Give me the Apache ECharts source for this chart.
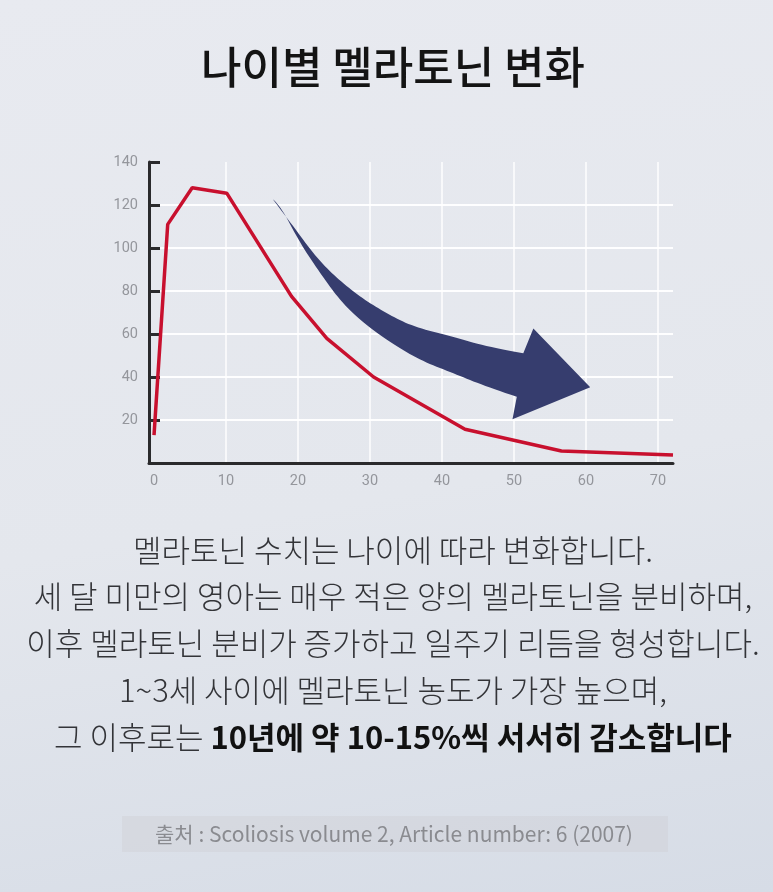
<!DOCTYPE html>
<html><head><meta charset="utf-8">
<script src="https://cdn.jsdelivr.net/npm/echarts@6/dist/echarts.min.js"></script>
<style>
html,body{margin:0;padding:0;}
body{width:773px;height:892px;background:linear-gradient(170deg,#e8eaf0 0%,#e4e7ed 55%,#d6dce6 100%);}
#c{width:773px;height:892px;}
</style>
</head><body><div id="c"></div>
<script>
// ---- data ----
const ages = [0, 1.9, 5.3, 10.1, 19.1, 24.0, 30.5, 43.2, 56.6, 72.1];
const melatonin = [13, 111, 128, 125.5, 77.5, 58, 40, 15.7, 5.6, 3.7];
const xTickLabels = [0, 10, 20, 30, 40, 50, 60, 70];
const yTickLabels = [20, 40, 60, 80, 100, 120, 140];
const titleText = '나이별 멜라토닌 변화';
const bodyLines = [
  '멜라토닌 수치는 나이에 따라 변화합니다.',
  '세 달 미만의 영아는 매우 적은 양의 멜라토닌을 분비하며,',
  '이후 멜라토닌 분비가 증가하고 일주기 리듬을 형성합니다.',
  '1~3세 사이에 멜라토닌 농도가 가장 높으며,'
];
const lastLinePlain = '그 이후로는 ';
const lastLineBold = '10년에 약 10-15%씩 서서히 감소합니다';
const sourceText = '출처 : Scoliosis volume 2, Article number: 6 (2007)';

const KR = '"Noto Sans CJK KR", "Noto Sans", sans-serif';
const chart = echarts.init(document.getElementById('c'), null, {renderer: 'canvas'});

function smoothPts(pts) {
  const out = [pts[0]];
  const n = pts.length;
  for (let i = 1; i < n - 1; i++) {
    const a = i === 1 ? pts[0] : [(pts[i-1][0] + pts[i][0]) / 2, (pts[i-1][1] + pts[i][1]) / 2];
    const b = i === n - 2 ? pts[n-1] : [(pts[i][0] + pts[i+1][0]) / 2, (pts[i][1] + pts[i+1][1]) / 2];
    const c = pts[i];
    for (let k = 1; k <= 10; k++) {
      const t = k / 10, u = 1 - t;
      out.push([u*u*a[0] + 2*u*t*c[0] + t*t*b[0], u*u*a[1] + 2*u*t*c[1] + t*t*b[1]]);
    }
  }
  if (n === 2) out.push(pts[1]);
  return out;
}

function renderArrow(params, api) {
  const upper = [[16.5,122.7],[19.4,109.9],[22.1,97.5],[24.9,87.4],[28.6,77.3],[32.3,69.6],[36.0,63.4],[41.6,58.7],[46.2,54.1],[51.3,51.0]];
  const head = [[52.7,62.6],[60.6,35.2],[49.8,20.3]];
  const lower = [[50.4,30.8],[46.2,35.5],[41.6,41.7],[36.9,47.9],[32.3,57.2],[28.6,66.5],[25.8,75.8],[23.1,88.2],[20.3,102.2],[17.5,120],[16.5,122.7]];
  const up = smoothPts(upper.map(p => api.coord(p)));
  const hd = head.map(p => api.coord(p));
  const lo = smoothPts(lower.map(p => api.coord(p)));
  return {
    type: 'polygon',
    shape: {points: up.concat(hd, lo)},
    style: {fill: '#363d6e'}
  };
}

const bodyFont = '300 31px ' + KR;
const textGraphics = [{
  type: 'text', x: 393, y: 67,
  style: {text: titleText, font: '500 44px ' + KR, fill: '#141414', textAlign: 'center', textVerticalAlign: 'middle'}
}];
bodyLines.forEach((t, i) => {
  textGraphics.push({
    type: 'text', x: 393, y: 550 + i * 46.7,
    style: {text: t, font: bodyFont, fill: '#333438', textAlign: 'center', textVerticalAlign: 'middle'}
  });
});

const option = {
  backgroundColor: 'transparent',
  animation: false,
  grid: {left: 149, right: 100, top: 162, bottom: 429, containLabel: false},
  xAxis: {
    type: 'value', min: -0.7, max: 72.1,
    axisLine: {show: true, onZero: false, lineStyle: {color: '#2a2a2c', width: 3}},
    axisTick: {show: false, customValues: xTickLabels},
    axisLabel: {customValues: xTickLabels, color: '#94969c', fontSize: 14.5, fontFamily: 'Roboto, sans-serif', margin: 11},
    splitLine: {show: true, showMinLine: false, lineStyle: {color: 'rgba(255,255,255,0.95)', width: 1.5}}
  },
  yAxis: {
    type: 'value', min: 0, max: 140, interval: 20,
    axisLine: {show: true, onZero: false, lineStyle: {color: '#2a2a2c', width: 3}},
    axisTick: {show: true, inside: true, length: 11, lineStyle: {color: '#2a2a2c', width: 3}},
    axisLabel: {color: '#94969c', fontSize: 14.5, fontFamily: 'Roboto, sans-serif', margin: 11,
      formatter: v => (yTickLabels.indexOf(v) >= 0 ? String(v) : '')},
    splitLine: {show: true, showMinLine: false, showMaxLine: false, lineStyle: {color: 'rgba(255,255,255,0.95)', width: 2}}
  },
  series: [
    {
      type: 'custom', renderItem: renderArrow, data: [[0, 0]], silent: true, z: 3, clip: false
    },
    {
      type: 'line', data: ages.map((a, i) => [a, melatonin[i]]), symbol: 'none', z: 4,
      lineStyle: {color: '#c8102e', width: 3.5}, clip: false
    }
  ],
  graphic: textGraphics.concat([
    {
      type: 'text', x: 393, y: 737,
      style: {
        text: '{n|' + lastLinePlain + '}{b|' + lastLineBold + '}',
        textAlign: 'center', textVerticalAlign: 'middle',
        rich: {
          n: {font: bodyFont, fill: '#333438'},
          b: {font: 'bold 31px ' + KR, fill: '#111111'}
        }
      }
    },
    {
      type: 'rect', shape: {x: 122, y: 816, width: 546, height: 36},
      style: {fill: 'rgba(205,206,210,0.38)'}
    },
    {
      type: 'text', x: 394, y: 834,
      style: {text: sourceText, font: '21px ' + KR, fill: '#8a8b90', textAlign: 'center', textVerticalAlign: 'middle'}
    }
  ])
};
chart.setOption(option);
</script>
</body></html>
